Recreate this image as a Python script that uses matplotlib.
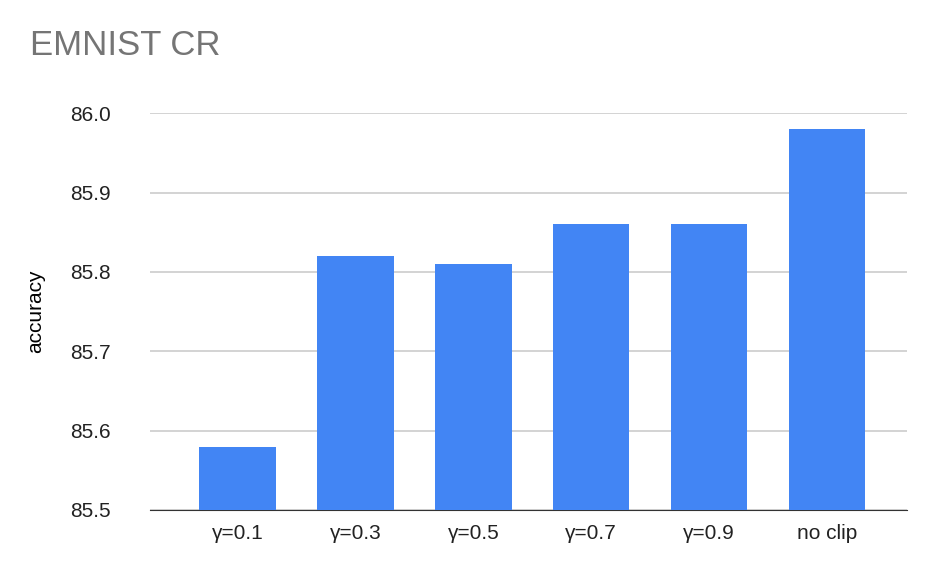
import matplotlib
matplotlib.use("Agg")
import matplotlib.pyplot as plt

plt.rcParams['font.family'] = ['Liberation Sans', 'DejaVu Sans']

categories = ["γ=0.1", "γ=0.3", "γ=0.5", "γ=0.7", "γ=0.9", "no clip"]
accuracy = [85.58, 85.82, 85.81, 85.86, 85.86, 85.98]
yticks = [85.5, 85.6, 85.7, 85.8, 85.9, 86.0]

fig = plt.figure(figsize=(9.36, 5.8), dpi=100)
ax = fig.add_axes([0.160, 0.1207, 0.809, 0.684])

x = list(range(len(categories)))
ax.bar(x, accuracy, width=0.65, color="#4285f4", zorder=3)
ax.set_xlim(-0.746, 5.68)
ax.set_ylim(85.5, 86.0)
ax.set_yticks(yticks)
ax.set_yticklabels([f"{v:.1f}" for v in yticks])
ax.set_xticks(x)
ax.set_xticklabels(categories)
ax.tick_params(length=0, labelsize=15, colors="#222222")
ax.tick_params(axis='y', pad=28)
ax.tick_params(axis='x', pad=10)
ax.grid(axis='y', color="#cccccc", linewidth=1.2, zorder=0)
for s in ["top", "right", "left"]:
    ax.spines[s].set_visible(False)
ax.spines["bottom"].set_color("#333333")
ax.set_ylabel("accuracy", fontsize=15, labelpad=18)

fig.text(0.032, 0.905, "EMNIST CR", fontsize=25, color="#757575", va="baseline")

fig.savefig("out.png", dpi=100)
